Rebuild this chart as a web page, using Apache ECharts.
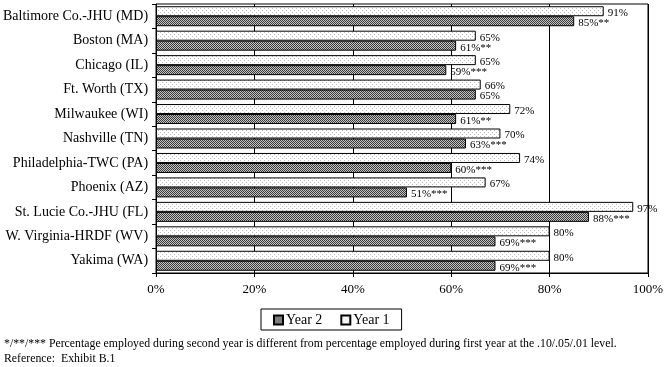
<!DOCTYPE html>
<html>
<head>
<meta charset="utf-8">
<script src="https://cdn.jsdelivr.net/npm/echarts@6/dist/echarts.min.js"></script>
<style>html,body{margin:0;padding:0;background:#fff}#c{width:668px;height:367px}</style>
</head>
<body>
<div id="c"></div>
<script>
var categories = ["Baltimore Co.-JHU (MD)","Boston (MA)","Chicago (IL)","Ft. Worth (TX)","Milwaukee (WI)","Nashville (TN)","Philadelphia-TWC (PA)","Phoenix (AZ)","St. Lucie Co.-JHU (FL)","W. Virginia-HRDF (WV)","Yakima (WA)"];
var year1 = [91,65,65,66,72,70,74,67,97,80,80];
var year2 = [85,61,59,65,61,63,60,51,88,69,69];
var year2Stars = ["**","**","***","","**","***","***","***","***","***","***"];
var xTicks = [0,20,40,60,80,100];
var footnote1 = "*/**/*** Percentage employed during second year is different from percentage employed during first year at the .10/.05/.01 level.";
var footnote2 = "Reference:  Exhibit B.1";

function makePattern(w, h, bg, dots, dotColor) {
  var c = document.createElement('canvas');
  c.width = w; c.height = h;
  var ctx = c.getContext('2d');
  ctx.fillStyle = bg; ctx.fillRect(0,0,w,h);
  ctx.fillStyle = dotColor;
  dots.forEach(function(d){ ctx.fillRect(d[0], d[1], 1, 1); });
  return {image: c, repeat: 'repeat'};
}
var pat2 = makePattern(2,2,'#c4c4c4',[[0,0],[1,1]],'#3a3a3a');
var pat1 = makePattern(4,4,'#ffffff',[[0,0],[2,2]],'#bdbdbd');

var font = '"Liberation Serif", "Times New Roman", serif';
var chart = echarts.init(document.getElementById('c'), null, {renderer:'canvas'});
chart.setOption({
  animation: false,
  textStyle: {fontFamily: font, color: '#000'},
  grid: {left: 156, right: 20, top: 4, bottom: 94, show: true, borderColor: '#000', borderWidth: 1, backgroundColor: 'transparent'},
  xAxis: {
    type: 'value', min: 0, max: 100, interval: 20,
    axisLine: {show: true, lineStyle: {color: '#000', width: 1}},
    axisTick: {show: true, inside: false, length: 4, lineStyle: {color: '#000'}},
    axisLabel: {formatter: '{value}%', fontSize: 13, color: '#000', fontFamily: font, margin: 10},
    splitLine: {show: true, lineStyle: {color: '#000', width: 1}}
  },
  yAxis: {
    type: 'category', data: categories, inverse: true,
    axisLine: {show: true, lineStyle: {color: '#000', width: 1}},
    axisTick: {show: true, inside: false, length: 4, alignWithLabel: false, lineStyle: {color: '#000'}},
    axisLabel: {fontSize: 14, color: '#000', fontFamily: font, margin: 8},
    splitLine: {show: false}
  },
  legend: {
    data: ['Year 2','Year 1'],
    left: 261, top: 309,
    orient: 'horizontal',
    icon: 'rect',
    borderColor: '#000', borderWidth: 1,
    padding: [4, 12, 3, 12],
    itemWidth: 9, itemHeight: 9, itemGap: 18,
    textStyle: {fontSize: 14, fontFamily: font, color: '#000', padding: [0,0,0,-2]}
  },
  series: [
    {
      name: 'Year 1', type: 'bar', data: year1,
      barWidth: 10, barGap: '0%', barCategoryGap: '18%',
      itemStyle: {color: pat1, borderColor: '#000', borderWidth: 1},
      label: {show: true, position: 'right', distance: 4, offset: [0, 2], fontSize: 11, fontFamily: font, color: '#000',
        formatter: function(p){ return p.value + '%'; }}
    },
    {
      name: 'Year 2', type: 'bar', data: year2,
      barWidth: 10, barGap: '0%', barCategoryGap: '18%',
      itemStyle: {color: pat2, borderColor: '#000', borderWidth: 1},
      label: {show: true, position: 'right', distance: 4, offset: [0, 2], fontSize: 11, fontFamily: font, color: '#000',
        formatter: function(p){ return p.value + '%' + year2Stars[p.dataIndex]; }}
    }
  ],
  graphic: [
    {type: 'text', left: 4, top: 338, style: {text: footnote1, font: '11.8px ' + font, fill: '#000'}},
    {type: 'text', left: 4, top: 353, style: {text: footnote2, font: '11.8px ' + font, fill: '#000'}}
  ]
});
</script>
</body>
</html>
